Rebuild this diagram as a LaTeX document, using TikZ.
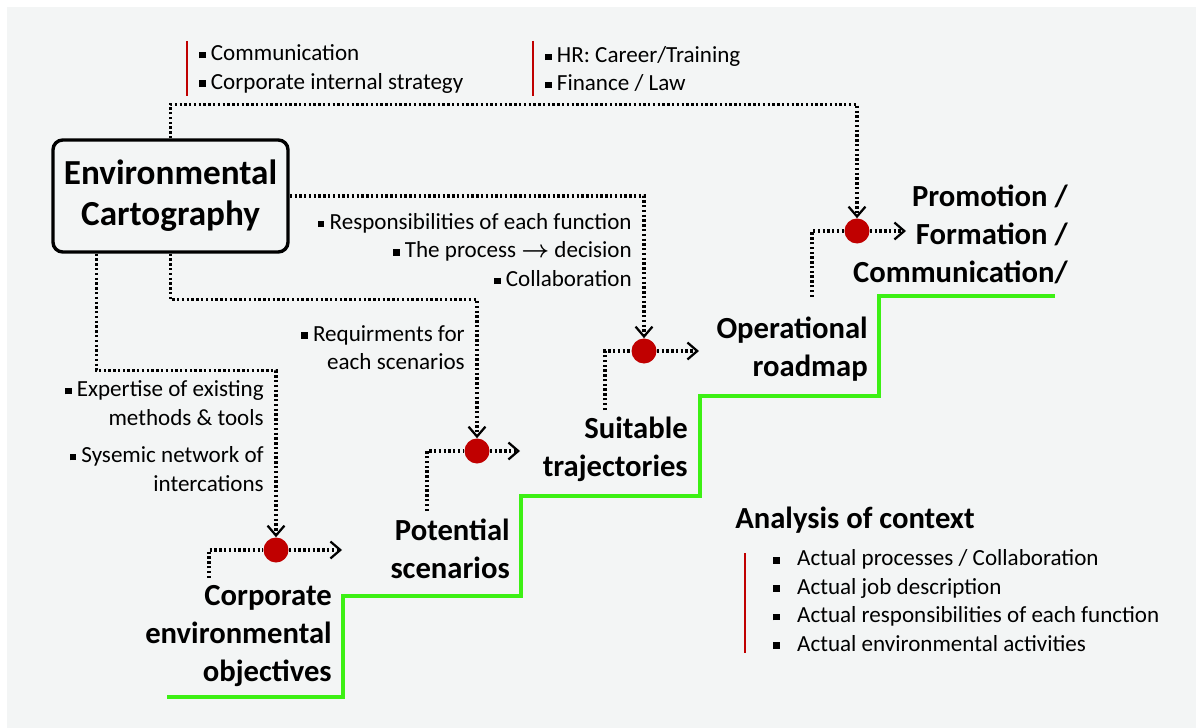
\documentclass[tikz,border=0pt]{standalone}
\usepackage{fontspec}
\setmainfont{Carlito}
\definecolor{cpred}{RGB}{192,0,0}
\definecolor{cpgreen}{RGB}{60,240,20}
\definecolor{cpgray}{RGB}{243,245,245}
\usetikzlibrary{arrows.meta,positioning,calc}
\newcommand{\sqb}{\rule[0.1em]{0.28em}{0.28em}}

\begin{document}
\begin{tikzpicture}[
  x=0.025cm, y=-0.025cm,
  every node/.style={inner sep=0pt},
  cartobox/.style={draw,line width=2.4pt,rounded corners=7pt,minimum width=5.875cm,minimum height=2.8cm,
                   align=center,font=\fontsize{25}{29}\selectfont\bfseries},
  steplabel/.style={anchor=east,align=right,font=\fontsize{21.8}{27}\selectfont\bfseries},
  notetext/.style={align=right,font=\fontsize{16.4}{20.2}\selectfont},
  hubdot/.style={circle,fill=cpred,minimum size=0.625cm},
  dotline/.style={line width=2.2pt,dash pattern=on 1.7pt off 1.7pt},
  dotarrow/.style={dotline,-{Straight Barb[length=7pt,width=12pt,line width=1.6pt]}},
  stepline/.style={cpgreen,line width=2.8pt},
  redbar/.style={cpred,line width=1pt},
]
  % Background
  \fill[white] (0,0) rectangle (1196,728);
  \fill[cpgray] (7,7) rectangle (1196,728);
  \useasboundingbox (0,0) rectangle (1196,728);

  % Source box
  \node[cartobox] (env) at (170.5,196) {Environmental\\Cartography};

  % Top notes
  \node[notetext,align=left,anchor=west] (comm) at (199,69) {\sqb\ Communication\\\sqb\ Corporate internal strategy};
  \node[notetext,align=left,anchor=west] (hr) at (545,69) {\sqb\ HR: Career/Training\\\sqb\ Finance / Law};
  \draw[redbar] (187,41) -- (187,96);
  \draw[redbar] (533,41) -- (533,96);

  % Stairs
  \draw[stepline] (167,697) -| (343,596) -| (521,496) -| (700,396) -| (879,296) -- (1055,296);
  \node[steplabel] (obj) at (332,636) {Corporate\\environmental\\objectives};
  \node[steplabel] (scen) at (510,549) {Potential\\scenarios};
  \node[steplabel] (traj) at (688,449.5) {Suitable\\trajectories};
  \node[steplabel] (road) at (868,349) {Operational\\roadmap};
  \node[steplabel] (promo) at (1068,234.5) {Promotion /\\Formation /\\Communication/};

  % Hubs
  \node[hubdot] (d1) at (276,550) {};
  \node[hubdot] (d2) at (477,451) {};
  \node[hubdot] (d3) at (644,351) {};
  \node[hubdot] (d4) at (857,231) {};

  % Feeds from the cartography
  \coordinate (envl) at ($(env.south west)+(45,0)$);
  \draw[dotarrow] (env.north) -- ++(0,-34) -| (d4.north);
  \draw[dotarrow] (env.east) -| (d3.north);
  \draw[dotarrow] (env.south) -- ++(0,46) -| (d2.north);
  \draw[dotarrow] (envl) -- ++(0,117) -| (d1.north);

  % Step to hub to next step
  \coordinate (s1) at (209,578);
  \coordinate (t1) at (342,550);
  \draw[dotline] (s1) |- (d1.west);
  \draw[dotarrow] (d1.east) -- (t1);
  \coordinate (s2) at (427,511);
  \coordinate (t2) at (520,451);
  \draw[dotline] (s2) |- (d2.west);
  \draw[dotarrow] (d2.east) -- (t2);
  \coordinate (s3) at (605,410);
  \coordinate (t3) at (699,351);
  \draw[dotline] (s3) |- (d3.west);
  \draw[dotarrow] (d3.east) -- (t3);
  \coordinate (s4) at (812,297);
  \coordinate (t4) at (906,231);
  \draw[dotline] (s4) |- (d4.west);
  \draw[dotarrow] (d4.east) -- (t4);

  % Notes along the feeds
  \node[notetext,anchor=east] (resp) at (632,250) {\sqb\ Responsibilities of each function\\\sqb\ The process {\boldmath$\rightarrow$} decision\\\sqb\ Collaboration};
  \node[notetext,anchor=east] (req) at (465,347.5) {\sqb\ Requirments for\\each scenarios};
  \node[notetext,anchor=east] (exp) at (264,403) {\sqb\ Expertise of existing\\methods \& tools};
  \node[notetext,anchor=east] (sys) at (264,469) {\sqb\ Sysemic network of\\intercations};

  % Analysis of context
  \node[steplabel,anchor=west] (ctx) at (735,520) {Analysis of context};
  \node[notetext,align=left,anchor=west] (ctxlist) at (773,600.5) {%
    \makebox[17pt][l]{\sqb}Actual processes / Collaboration\\
    \makebox[17pt][l]{\sqb}Actual job description\\
    \makebox[17pt][l]{\sqb}Actual responsibilities of each function\\
    \makebox[17pt][l]{\sqb}Actual environmental activities};
  \draw[redbar] (745,553) -- (745,653);
\end{tikzpicture}
\end{document}
